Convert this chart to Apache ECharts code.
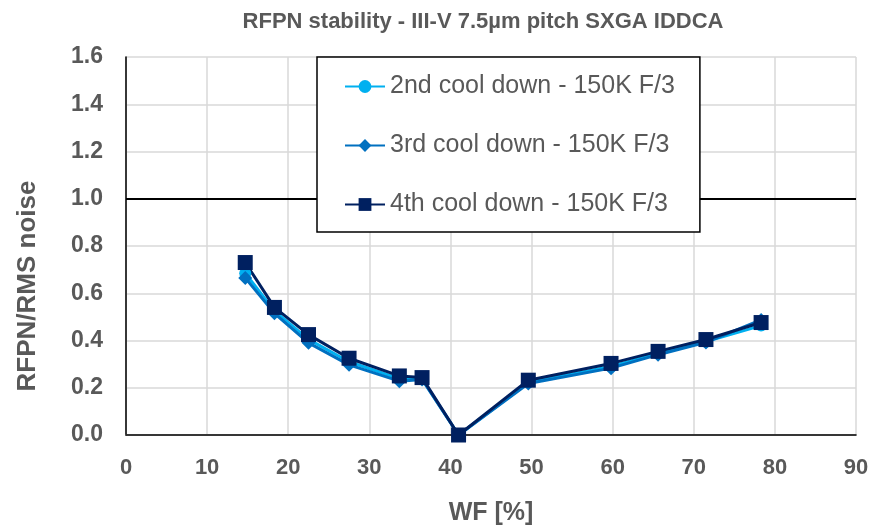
<!DOCTYPE html>
<html><head><meta charset="utf-8">
<script src="https://cdn.jsdelivr.net/npm/echarts@6/dist/echarts.min.js"></script>
<style>html,body{margin:0;padding:0;background:#fff}#c{width:875px;height:531px}</style>
</head><body><div id="c"></div>
<script>
const titleText = 'RFPN stability - III-V 7.5µm pitch SXGA IDDCA';
const xName = 'WF [%]';
const yName = 'RFPN/RMS noise';
const seriesNames = ['2nd cool down - 150K F/3', '3rd cool down - 150K F/3', '4th cool down - 150K F/3'];
const wf = [14.7, 18.3, 22.5, 27.5, 33.7, 36.5, 41.0, 49.6, 59.8, 65.6, 71.5, 78.3];
const cd2 = [0.685, 0.525, 0.405, 0.31, 0.238, 0.238, 0.0, 0.222, 0.29, 0.345, 0.395, 0.463];
const cd3 = [0.665, 0.515, 0.39, 0.297, 0.228, 0.235, 0.0, 0.218, 0.283, 0.34, 0.392, 0.487];
const cd4 = [0.73, 0.54, 0.425, 0.325, 0.25, 0.243, 0.0, 0.232, 0.303, 0.354, 0.404, 0.476];
const thresholdY = 1.0;

const pair = arr => wf.map((x, i) => [x, arr[i]]);
const font = 'Liberation Sans, Arial, sans-serif';
const gray = '#595959';

const chart = echarts.init(document.getElementById('c'));
chart.setOption({
  animation: false,
  backgroundColor: '#fff',
  title: {
    text: titleText, left: 478, top: 6, textAlign: 'center',
    textStyle: { fontFamily: font, fontSize: 22, fontWeight: 'bold', color: gray }
  },
  grid: { left: 126, right: 19, top: 57, bottom: 93 },
  legend: {
    orient: 'vertical', left: 317, top: 57, z: 20,
    backgroundColor: '#fff', borderColor: '#000', borderWidth: 1.5,
    padding: [17, 25, 15, 27], itemGap: 34, itemWidth: 40, itemHeight: 16,
    textStyle: { fontFamily: font, fontSize: 25, color: gray },
    data: seriesNames
  },
  xAxis: [{
    type: 'value', min: 0, max: 90, interval: 10,
    name: xName, nameLocation: 'middle', nameGap: 66,
    nameTextStyle: { fontFamily: font, fontSize: 25, fontWeight: 'bold', color: gray },
    axisLine: { lineStyle: { color: '#D9D9D9', width: 1.5 } },
    axisTick: { show: false },
    axisLabel: { fontFamily: font, fontSize: 22, fontWeight: 'bold', color: gray, margin: 22 },
    splitLine: { lineStyle: { color: '#D9D9D9', width: 1.5 } }
  }, {
    type: 'value', position: 'top', min: 0, max: 90,
    axisLine: { show: true, lineStyle: { color: '#000', width: 1.5 } },
    axisTick: { show: false }, axisLabel: { show: false }, splitLine: { show: false }
  }],
  yAxis: [{
    type: 'value', min: 0, max: 1.6, interval: 0.2,
    name: yName, nameLocation: 'middle', nameGap: 85, nameRotate: 90,
    nameTextStyle: { fontFamily: font, fontSize: 26, fontWeight: 'bold', color: gray, padding: [0, 80, 0, 0] },
    axisLine: { show: true, lineStyle: { color: '#D9D9D9', width: 1.5 } },
    axisTick: { show: false },
    axisLabel: { fontFamily: font, fontSize: 23, fontWeight: 'bold', color: gray, margin: 23,
      formatter: v => v.toFixed(1) },
    splitLine: { lineStyle: { color: '#D9D9D9', width: 1.5 } }
  }, {
    type: 'value', position: 'right', min: 0, max: 1.6,
    axisLine: { show: true, lineStyle: { color: '#000', width: 1.5 } },
    axisTick: { show: false }, axisLabel: { show: false }, splitLine: { show: false }
  }],
  series: [{
    name: seriesNames[0], type: 'line', data: pair(cd2),
    symbol: 'circle', symbolSize: 12,
    itemStyle: { color: '#00B0F0' }, lineStyle: { color: '#00B0F0', width: 3 },
    markLine: {
      silent: true, symbol: 'none', label: { show: false },
      lineStyle: { color: '#000', width: 2, type: 'solid' },
      data: [{ yAxis: thresholdY }]
    }
  }, {
    name: seriesNames[1], type: 'line', data: pair(cd3),
    symbol: 'diamond', symbolSize: 14,
    itemStyle: { color: '#0070C0' }, lineStyle: { color: '#0070C0', width: 3 }
  }, {
    name: seriesNames[2], type: 'line', data: pair(cd4),
    symbol: 'rect', symbolSize: 15,
    itemStyle: { color: '#002060' }, lineStyle: { color: '#002060', width: 3 }
  }]
});
</script></body></html>
